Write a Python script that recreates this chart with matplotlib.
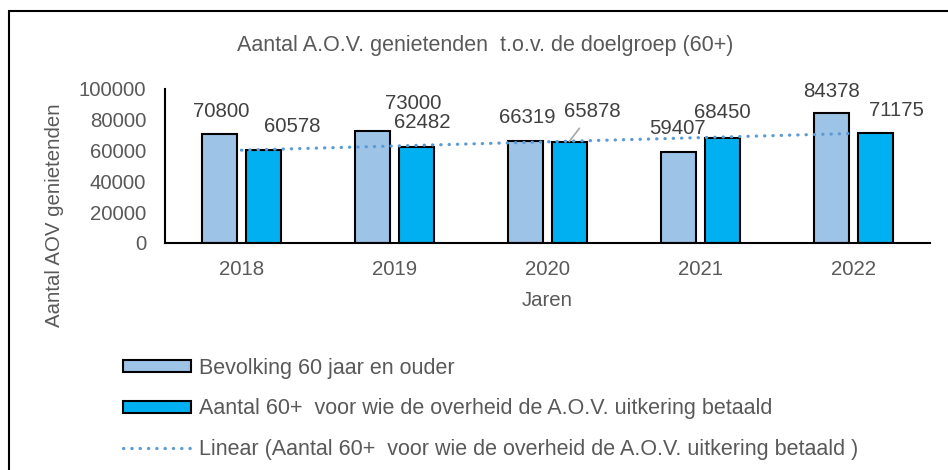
"""Aantal A.O.V. genietenden t.o.v. de doelgroep (60+), 2018-2022.
"""
import numpy as np
import matplotlib
matplotlib.use("Agg")
import matplotlib.pyplot as plt
from matplotlib.patches import Rectangle

plt.rcParams["font.family"] = ["Liberation Sans", "DejaVu Sans"]

#### Data.
years = ["2018", "2019", "2020", "2021", "2022"]
bevolking_60plus = [70800, 73000, 66319, 59407, 84378]
aov_betaald = [60578, 62482, 65878, 68450, 71175]

series_labels = [
    "Bevolking 60 jaar en ouder",
    "Aantal 60+  voor wie de overheid de A.O.V. uitkering betaald",
]
trend_label = "Linear (Aantal 60+  voor wie de overheid de A.O.V. uitkering betaald )"

# label offsets (pixels) from the top of each bar, as the labels were dragged
light_offsets = [(1, 22), (40, 27), (1, 23), (-1, 23), (0, 22)]
dark_offsets = [(29, 23), (6, 24), (23, 30), (0, 25), (21, 23)]

#### Style.
W, H, DPI = 948, 470, 100
TEXT = "#595959"
LIGHT = "#9DC3E6"
DARK = "#00B0F0"
TREND = "#5B9BD5"
FS = 14.7
FS_BIG = 15.5
BAR_W = 0.23
SHIFT = 0.142
BAR_KW = dict(width=BAR_W, edgecolor="black", linewidth=1.5, zorder=2)
TREND_KW = dict(color=TREND, lw=2.3, linestyle=(0, (0.1, 2.5)),
                dash_capstyle="round", zorder=3)

def px(x, y):
    """pixel position (from top-left) -> figure fraction"""
    return x / W, 1 - y / H

fig = plt.figure(figsize=(W / DPI, H / DPI), dpi=DPI)
ax_left, ax_top = px(165, 89)
ax_right, ax_bot = px(930, 243)
ax = fig.add_axes([ax_left, ax_bot, ax_right - ax_left, ax_top - ax_bot])

x = np.arange(len(years))
b1 = ax.bar(x - SHIFT, bevolking_60plus, color=LIGHT, label=series_labels[0], **BAR_KW)
b2 = ax.bar(x + SHIFT, aov_betaald, color=DARK, label=series_labels[1], **BAR_KW)

# linear trendline through the A.O.V. series
slope, icept = np.polyfit(x, aov_betaald, 1)
tr, = ax.plot(x, slope * x + icept, label=trend_label, **TREND_KW)

# data labels
for xi, v, off in zip(x - SHIFT, bevolking_60plus, light_offsets):
    ax.annotate(f"{v}", (xi, v), xytext=off, textcoords="offset pixels",
                ha="center", va="center", fontsize=FS, color="#404040", zorder=4)
for i, (xi, v, off) in enumerate(zip(x + SHIFT, aov_betaald, dark_offsets)):
    arrow = None
    if i == 2:
        arrow = dict(arrowstyle="-", color="#A6A6A6", lw=1.2, shrinkA=4, shrinkB=0)
    ax.annotate(f"{v}", (xi, v), xytext=off, textcoords="offset pixels",
                ha="center", va="center", fontsize=FS, color="#404040",
                arrowprops=arrow, zorder=4)

# axes
ax.set_xlim(-0.5, len(years) - 0.5)
ax.set_ylim(0, 100000)
ax.set_yticks(np.arange(0, 100001, 20000))
ax.set_xticks(x)
ax.set_xticklabels(years)
ax.tick_params(axis="both", length=0, labelsize=FS, labelcolor=TEXT)
ax.tick_params(axis="y", pad=13.5)
ax.tick_params(axis="x", pad=12)
ax.spines[["top", "right"]].set_visible(False)
ax.spines[["left", "bottom"]].set_linewidth(1.5)
ax.set_facecolor("none")

ax.set_xlabel("Jaren", fontsize=FS, color=TEXT, labelpad=9)
fig.text(*px(55, 215), "Aantal AOV genietenden", rotation=90, ha="center",
         va="center", fontsize=FS, color=TEXT)
fig.text(*px(485, 45), "Aantal A.O.V. genietenden  t.o.v. de doelgroep (60+)",
         ha="center", va="center", fontsize=FS_BIG, color=TEXT)

# legend
fig.legend(handles=[b1, b2, tr], loc="upper left",
           bbox_to_anchor=px(114, 349), frameon=False, fontsize=FS_BIG,
           labelcolor=TEXT, handlelength=3.16, handleheight=0.52,
           handletextpad=0.37, labelspacing=0.92, borderaxespad=0)

# chart border
l, t = px(9, 11)
fig.patches.append(Rectangle((l, -0.1), 1.2, t + 0.1, transform=fig.transFigure,
                             fill=False, edgecolor="black", lw=1.5))

fig.savefig("out.png", dpi=DPI)
plt.close(fig)
